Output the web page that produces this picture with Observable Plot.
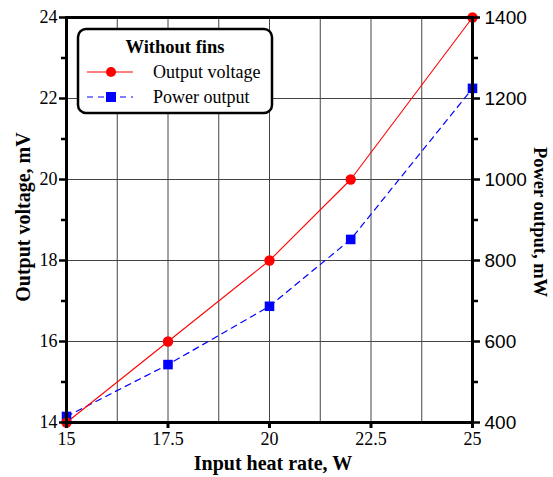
<!DOCTYPE html>
<html><head><meta charset="utf-8">
<script src="https://cdn.jsdelivr.net/npm/d3@7"></script>
<script src="https://cdn.jsdelivr.net/npm/@observablehq/plot@0.6"></script>
<style>body{margin:0;background:#fff} svg{display:block}</style>
</head><body><div id="chart"></div>
<script>
const heatRate = [15, 17.5, 20, 22, 25];
const voltage = [14, 16, 18, 20, 24];
const power = [415, 543, 687, 852, 1225];
const xTicks = [15, 17.5, 20, 22.5, 25];
const xGrid = [16.25, 17.5, 18.75, 20, 21.25, 22.5, 23.75];
const vTicks = [14, 16, 18, 20, 22, 24];
const vMinor = [15, 17, 19, 21, 23];
const vGrid = [16, 18, 20, 22];
const pTicks = [400, 600, 800, 1000, 1200, 1400];
const pMinor = [500, 700, 900, 1100, 1300];
const pToV = p => 14 + (p - 400) / 100; // right axis 400..1400 maps onto 14..24

const rows = heatRate.map((h, i) => ({h, v: voltage[i], p: power[i]}));
const serif = "Liberation Serif, Times New Roman, serif";
const sans = "Liberation Sans, Arial, sans-serif";

const plot = Plot.plot({
  width: 553, height: 477,
  marginLeft: 66, marginRight: 81, marginTop: 17, marginBottom: 55,
  x: {domain: [15, 25], axis: null},
  y: {domain: [14, 24], axis: null},
  style: {background: "white", color: "black"},
  marks: [
    Plot.ruleX(xGrid, {stroke: "#444", strokeWidth: 1}),
    Plot.ruleY(vGrid, {stroke: "#444", strokeWidth: 1}),
    Plot.line(rows, {x: "h", y: d => pToV(d.p), stroke: "#0000ff", strokeWidth: 1.2, strokeDasharray: "6,5"}),
    Plot.line(rows, {x: "h", y: "v", stroke: "#ff0000", strokeWidth: 1.1}),
    Plot.dot(rows, {x: "h", y: d => pToV(d.p), symbol: "square", fill: "#0000ff", r: 5.4}),
    Plot.dot(rows, {x: "h", y: "v", fill: "#ff0000", r: 5.2}),
    Plot.frame({stroke: "black", strokeWidth: 3}),
    Plot.axisX(xTicks, {anchor: "bottom", tickSize: 6, strokeWidth: 3, tickPadding: 4, fontFamily: serif, fontSize: 18, tickFormat: d => String(d), label: null}),
    Plot.axisY(vTicks, {anchor: "left", tickSize: 7, strokeWidth: 2.5, tickPadding: 2, fontFamily: serif, fontSize: 18, tickFormat: d => String(d), label: null}),
    Plot.axisY(vMinor, {anchor: "left", tickSize: 5, strokeWidth: 2.5, tickFormat: () => "", label: null}),
    Plot.axisY(pTicks.map(pToV), {anchor: "right", tickSize: 7, strokeWidth: 2.5, tickPadding: 5, fontFamily: sans, fontSize: 19, tickFormat: d => String(Math.round((d - 14) * 100 + 400)), label: null}),
    Plot.axisY(pMinor.map(pToV), {anchor: "right", tickSize: 5, strokeWidth: 2.5, tickFormat: () => "", label: null})
  ]
});

const svg = d3.select(plot);
// axis titles
svg.append("text").attr("transform", "translate(23,217) rotate(-90)")
  .attr("text-anchor", "middle").attr("dominant-baseline", "central")
  .attr("font-family", serif).attr("font-weight", "bold").attr("font-size", 20)
  .text("Output voltage, mV");
svg.append("text").attr("transform", "translate(540,222) rotate(90)")
  .attr("text-anchor", "middle").attr("dominant-baseline", "central")
  .attr("font-family", serif).attr("font-weight", "bold").attr("font-size", 18.5)
  .text("Power output, mW");
svg.append("text").attr("x", 273).attr("y", 470)
  .attr("text-anchor", "middle")
  .attr("font-family", serif).attr("font-weight", "bold").attr("font-size", 20)
  .text("Input heat rate, W");

// legend
const lg = svg.append("g").attr("text-anchor", "start");
lg.append("rect").attr("x", 78).attr("y", 29).attr("width", 194).attr("height", 84).attr("rx", 8)
  .attr("fill", "white").attr("stroke", "black").attr("stroke-width", 2.5);
lg.append("text").attr("x", 175).attr("y", 53).attr("text-anchor", "middle")
  .attr("font-family", serif).attr("font-weight", "bold").attr("font-size", 18.5).text("Without fins");
lg.append("line").attr("x1", 87).attr("x2", 133).attr("y1", 72).attr("y2", 72).attr("stroke", "#ff0000").attr("stroke-width", 1);
lg.append("circle").attr("cx", 111).attr("cy", 72).attr("r", 5).attr("fill", "#ff0000");
lg.append("text").attr("x", 153).attr("y", 77.5).attr("text-anchor", "start").attr("font-family", serif).attr("font-size", 18).text("Output voltage");
lg.append("line").attr("x1", 87).attr("x2", 133).attr("y1", 97).attr("y2", 97).attr("stroke", "#0000ff").attr("stroke-width", 1.2).attr("stroke-dasharray", "6,5");
lg.append("rect").attr("x", 106).attr("y", 92).attr("width", 10).attr("height", 10).attr("fill", "#0000ff");
lg.append("text").attr("x", 153).attr("y", 102.5).attr("text-anchor", "start").attr("font-family", serif).attr("font-size", 18).text("Power output");

document.getElementById("chart").appendChild(plot);
</script>
</body></html>
